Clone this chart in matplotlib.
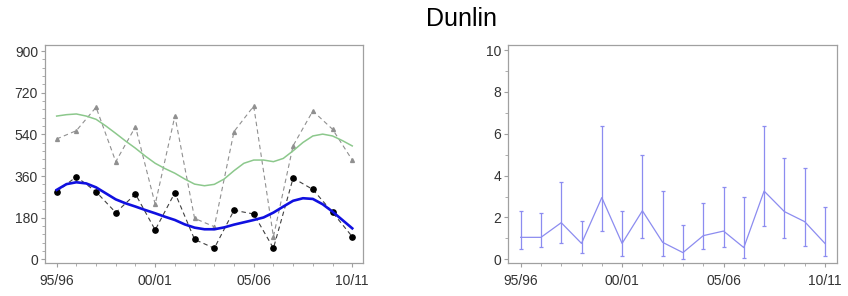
import matplotlib
matplotlib.use("Agg")
import matplotlib.pyplot as plt
from matplotlib.ticker import MultipleLocator
import numpy as np

plt.rcParams['font.family'] = ['Liberation Sans', 'DejaVu Sans']

seasons = ["95/96", "96/97", "97/98", "98/99", "99/00", "00/01", "01/02", "02/03",
           "03/04", "04/05", "05/06", "06/07", "07/08", "08/09", "09/10", "10/11"]
tick_labels = ["95/96", "00/01", "05/06", "10/11"]

# left panel: counts
black_counts = [292, 357, 292, 202, 282, 127, 288, 86, 48, 212, 196, 48, 351, 302, 203, 98]
gray_counts = [520, 556, 657, 422, 573, 238, 619, 177, 141, 552, 662, 98, 491, 641, 562, 429]
# smoothed trends read at half-season steps
smooth_x = [i * 0.5 for i in range(31)]
green_trend = [619, 625, 628, 619, 605, 576, 544, 511, 480, 446, 415, 392, 372, 347, 325, 318,
               324, 347, 383, 415, 429, 429, 422, 436, 469, 505, 533, 541, 533, 513, 490]
blue_trend = [300, 325, 333, 328, 311, 285, 259, 242, 228, 213, 199, 184, 170, 151, 137, 130,
              130, 138, 150, 160, 170, 181, 202, 228, 253, 264, 261, 238, 206, 170, 134]

# right panel: ratio with intervals
ratio_mean = [1.05, 1.05, 1.75, 0.76, 2.95, 0.76, 2.32, 0.81, 0.32, 1.13, 1.35, 0.56, 3.26, 2.28, 1.80, 0.76]
ratio_low = [0.49, 0.57, 0.76, 0.29, 1.35, 0.18, 1.04, 0.18, 0.0, 0.48, 0.57, 0.08, 1.61, 1.04, 0.65, 0.18]
ratio_high = [2.31, 2.23, 3.71, 1.83, 6.39, 2.31, 5.0, 3.28, 1.64, 2.71, 3.47, 2.99, 6.39, 4.82, 4.35, 2.52]

x = np.arange(len(seasons))

fig = plt.figure(figsize=(8.48, 2.96), dpi=100)
ax1 = fig.add_axes([0.0531, 0.1105, 0.3753, 0.7375])
ax2 = fig.add_axes([0.5994, 0.1105, 0.3873, 0.7375])

frame_col = '#a0a0a0'
tick_col = '#333333'

ax1.plot(x, gray_counts, color='#909090', lw=0.8, ls=(0, (4, 3)), marker='^', ms=2.8,
         mfc='#909090', mec='#909090', zorder=2)
ax1.plot(x, black_counts, color='#404040', lw=0.8, ls=(0, (4, 3)), marker='o', ms=3.8,
         mfc='black', mec='black', zorder=3)
ax1.plot(smooth_x, green_trend, color='#8cc88c', lw=1.1, zorder=4)
ax1.plot(smooth_x, blue_trend, color='#1010e0', lw=1.9, zorder=5)
ax1.set_xlim(-0.59, 15.56)
ax1.set_ylim(-17, 926)
ax1.yaxis.set_major_locator(MultipleLocator(180))
ax1.yaxis.set_minor_locator(MultipleLocator(36))

yerr = [np.array(ratio_mean) - np.array(ratio_low), np.array(ratio_high) - np.array(ratio_mean)]
ax2.errorbar(x, ratio_mean, yerr=yerr, color='#8c8cf0', lw=0.9, elinewidth=0.9,
             capsize=1.5, capthick=0.9)
ax2.set_xlim(-0.61, 15.58)
ax2.set_ylim(-0.19, 10.24)
ax2.yaxis.set_major_locator(MultipleLocator(2))
ax2.yaxis.set_minor_locator(MultipleLocator(1))

for ax in (ax1, ax2):
    ax.set_xticks([0, 5, 10, 15])
    ax.set_xticklabels(tick_labels)
    ax.xaxis.set_minor_locator(MultipleLocator(1))
    for s in ax.spines.values():
        s.set_color(frame_col)
        s.set_linewidth(0.9)
    ax.tick_params(which='major', length=3, width=0.8, color=frame_col, labelsize=10,
                   labelcolor=tick_col)
    ax.tick_params(which='minor', length=2.5, width=0.6, color=frame_col)
    ax.tick_params(axis='y', which='major', pad=2)
    ax.tick_params(axis='x', which='major', pad=4.5)

fig.text(461 / 848, 1 - 18.8 / 296, "Dunlin", ha='center', va='center', fontsize=18)

fig.savefig("out.png", dpi=100)
